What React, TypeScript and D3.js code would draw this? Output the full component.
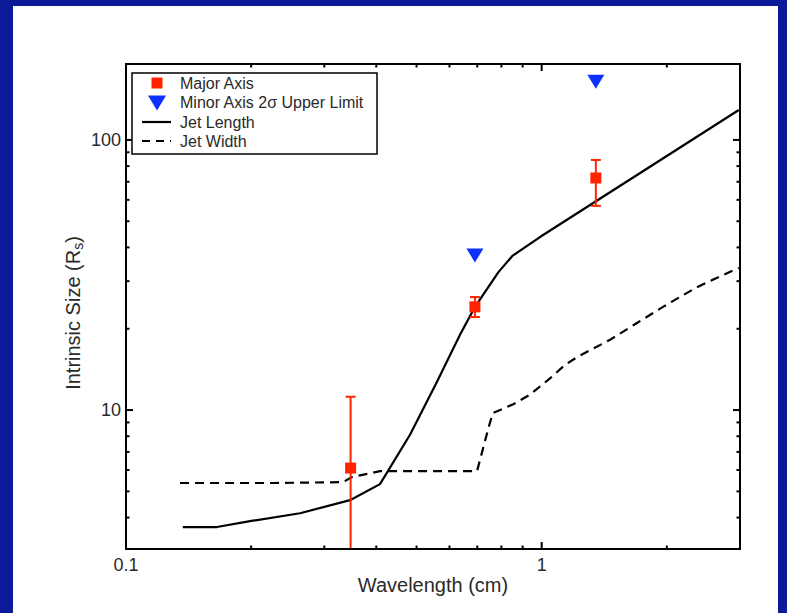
import React from "react";
import * as d3 from "d3";

// Major axis size with error bounds (wavelength in cm, size in Rs)
const majorWavelength = [0.347, 0.691, 1.35];
const majorSize = [6.1, 24.1, 72.3];
const majorUpper = [11.2, 26.2, 84.3];
const majorLower = [1.1, 22.1, 57.0];

// Minor axis 2-sigma upper limits
const minorWavelength = [0.691, 1.35];
const minorLimit = [37.5, 165];

// Model curves
const jetLengthWavelength = [0.137, 0.1655, 0.1988, 0.2622, 0.3459, 0.4083, 0.4822, 0.5596, 0.6361, 0.691, 0.787, 0.85, 0.9906, 2.98];
const jetLengthSize = [3.69, 3.69, 3.88, 4.15, 4.64, 5.32, 8.1, 12.7, 19.0, 24.1, 32.4, 37.2, 43.7, 129];

const jetWidthWavelength = [0.1349, 0.2258, 0.3327, 0.3497, 0.4083, 0.699, 0.745, 0.763, 0.854, 0.937, 1.047, 1.138, 1.216, 1.46, 1.695, 1.958, 2.363, 2.98];
const jetWidthSize = [5.37, 5.37, 5.41, 5.65, 5.94, 5.94, 8.61, 9.75, 10.5, 11.4, 13.1, 14.7, 15.7, 18.2, 21.0, 24.1, 28.5, 33.6];

const xTickLabels = ["0.1", "1"];
const yTickLabels = ["10", "100"];

const W = 787;
const H = 613;
const plot = { left: 126, right: 740, top: 64, bottom: 549 };

const RED = "#ff2400";
const BLUE = "#0b30ff";
const TEXT = "#2a2a2a";
const FONT = "'Liberation Sans', Arial, sans-serif";

export default function App() {
  const x = d3.scaleLog().domain([0.1, 3]).range([plot.left, plot.right]);
  const y = d3.scaleLog().domain([3.06, 191]).range([plot.bottom, plot.top]);

  const lengthPts: [number, number][] = jetLengthWavelength.map((w, i) => [w, jetLengthSize[i]]);
  const widthPts: [number, number][] = jetWidthWavelength.map((w, i) => [w, jetWidthSize[i]]);
  const line = d3
    .line<[number, number]>()
    .x((d) => x(d[0]))
    .y((d) => y(d[1]));

  // log ticks: integer multiples within each decade
  const xTicks: { v: number; major: boolean }[] = [];
  for (const dec of [0.1, 1]) {
    for (let k = 1; k <= 9; k++) {
      const v = dec * k;
      if (v >= 0.1 && v <= 3.0001) xTicks.push({ v, major: k === 1 });
    }
  }
  const yTicks: { v: number; major: boolean }[] = [];
  for (const dec of [1, 10, 100]) {
    for (let k = 1; k <= 9; k++) {
      const v = dec * k;
      if (v >= 3.06 && v <= 191) yTicks.push({ v, major: k === 1 });
    }
  }
  const majLen = 7;
  const minLen = 3.5;

  const legendX = 132;
  const legendY = 73;
  const legendRows = [83, 102.5, 122, 141];

  return (
    <div style={{ position: "absolute", left: 0, top: 0 }}>
      <svg width={W} height={H} style={{ display: "block" }}>
        <defs>
          <clipPath id="plotClip">
            <rect x={plot.left} y={plot.top} width={plot.right - plot.left} height={plot.bottom - plot.top} />
          </clipPath>
        </defs>
        <rect x={0} y={0} width={W} height={H} fill="#0b1a99" />
        <rect x={13} y={6} width={765} height={H - 6} fill="#ffffff" />

        {/* model curves */}
        <g clipPath="url(#plotClip)">
          <path d={line(lengthPts) || ""} fill="none" stroke="#000" strokeWidth={2.2} strokeLinejoin="round" />
          <path d={line(widthPts) || ""} fill="none" stroke="#000" strokeWidth={2.2} strokeDasharray="9 6" />
        </g>

        {/* major axis points with error bars */}
        <g clipPath="url(#plotClip)">
          {majorWavelength.map((w, i) => {
            const cx = x(w);
            return (
              <g key={"maj" + i}>
                <line x1={cx} x2={cx} y1={y(majorUpper[i])} y2={y(majorLower[i])} stroke={RED} strokeWidth={2} />
                <line x1={cx - 5} x2={cx + 5} y1={y(majorUpper[i])} y2={y(majorUpper[i])} stroke={RED} strokeWidth={2} />
                <line x1={cx - 5} x2={cx + 5} y1={y(majorLower[i])} y2={y(majorLower[i])} stroke={RED} strokeWidth={2} />
                <rect x={cx - 5.5} y={y(majorSize[i]) - 5.5} width={11} height={11} fill={RED} />
              </g>
            );
          })}
        </g>

        {/* minor axis upper limits */}
        {minorWavelength.map((w, i) => {
          const cx = x(w);
          const cy = y(minorLimit[i]);
          return (
            <path
              key={"min" + i}
              d={`M${cx - 8.5},${cy - 6.5} L${cx + 8.5},${cy - 6.5} L${cx},${cy + 7.5} Z`}
              fill={BLUE}
            />
          );
        })}

        {/* frame */}
        <rect
          x={plot.left}
          y={plot.top}
          width={plot.right - plot.left}
          height={plot.bottom - plot.top}
          fill="none"
          stroke="#000"
          strokeWidth={2}
        />

        {/* ticks on all four sides */}
        {xTicks.map((t, i) => {
          const px = x(t.v);
          const len = t.major ? majLen : minLen;
          return (
            <g key={"xt" + i}>
              <line x1={px} x2={px} y1={plot.bottom} y2={plot.bottom - len} stroke="#000" strokeWidth={2} />
              <line x1={px} x2={px} y1={plot.top} y2={plot.top + len} stroke="#000" strokeWidth={2} />
            </g>
          );
        })}
        {yTicks.map((t, i) => {
          const py = y(t.v);
          const len = t.major ? majLen : minLen;
          return (
            <g key={"yt" + i}>
              <line x1={plot.left} x2={plot.left + len} y1={py} y2={py} stroke="#000" strokeWidth={2} />
              <line x1={plot.right} x2={plot.right - len} y1={py} y2={py} stroke="#000" strokeWidth={2} />
            </g>
          );
        })}

        {/* tick labels */}
        {xTickLabels.map((s) => (
          <text key={"xl" + s} x={x(+s)} y={565} textAnchor="middle" dominantBaseline="central" fontFamily={FONT} fontSize={18} fill={TEXT}>
            {s}
          </text>
        ))}
        {yTickLabels.map((s) => (
          <text key={"yl" + s} x={121} y={y(+s)} textAnchor="end" dominantBaseline="central" fontFamily={FONT} fontSize={18} fill={TEXT}>
            {s}
          </text>
        ))}

        {/* axis titles */}
        <text x={(plot.left + plot.right) / 2} y={585} textAnchor="middle" dominantBaseline="central" fontFamily={FONT} fontSize={20} fill={TEXT}>
          Wavelength (cm)
        </text>
        <text
          transform={`translate(73,313) rotate(-90)`}
          textAnchor="middle"
          dominantBaseline="central"
          fontFamily={FONT}
          fontSize={20}
          fill={TEXT}
        >
          Intrinsic Size (R<tspan fontSize={14} dy={5}>s</tspan>
          <tspan dy={-5}>)</tspan>
        </text>

        {/* legend */}
        <rect x={legendX} y={legendY} width={245} height={81} fill="#fff" stroke="#000" strokeWidth={1.5} />
        <rect x={157 - 5.5} y={legendRows[0] - 5.5} width={11} height={11} fill={RED} />
        <path d={`M${157 - 9},${legendRows[1] - 7} L${157 + 9},${legendRows[1] - 7} L157,${legendRows[1] + 8} Z`} fill={BLUE} />
        <line x1={142} x2={171} y1={legendRows[2]} y2={legendRows[2]} stroke="#000" strokeWidth={2.2} />
        <line x1={142} x2={171} y1={legendRows[3]} y2={legendRows[3]} stroke="#000" strokeWidth={2.2} strokeDasharray="8 6" />
        {["Major Axis", "Minor Axis 2\u03C3 Upper Limit", "Jet Length", "Jet Width"].map((s, i) => (
          <text key={"lg" + i} x={180} y={legendRows[i]} dominantBaseline="central" fontFamily={FONT} fontSize={16} fill={TEXT}>
            {s}
          </text>
        ))}
      </svg>
    </div>
  );
}
